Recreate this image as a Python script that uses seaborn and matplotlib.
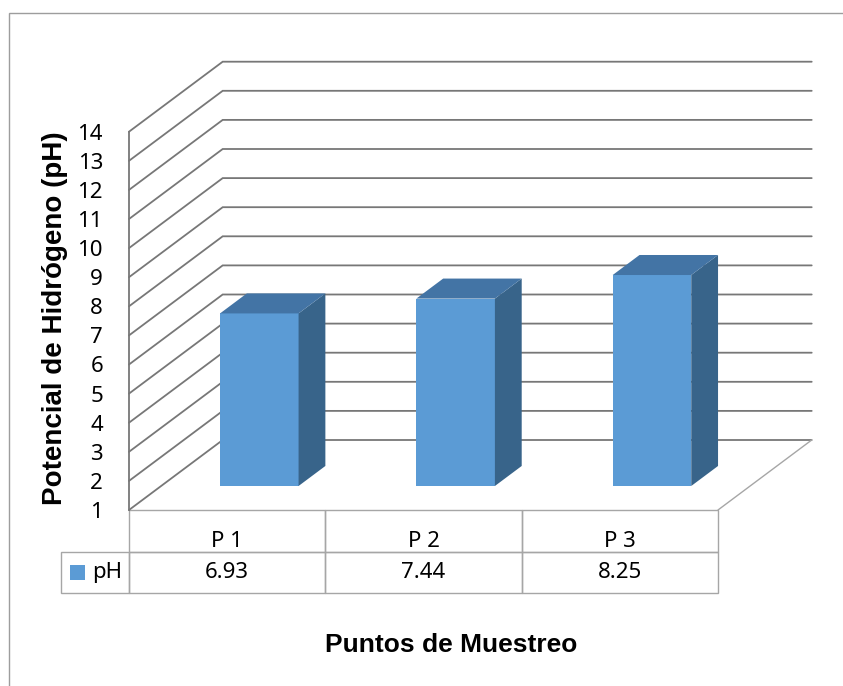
import pandas as pd
import matplotlib.pyplot as plt
from matplotlib.patches import Polygon, Rectangle
import seaborn as sns

# datos
puntos = ['P 1', 'P 2', 'P 3']
ph = [6.93, 7.44, 8.25]
escala_y = list(range(1, 15))
serie = 'pH'

df = pd.DataFrame({'punto': puntos, 'ph': ph})

sns.set_style("white")
plt.rcParams['font.family'] = ['Noto Sans', 'DejaVu Sans']
plt.rcParams['text.color'] = 'black'
plt.rcParams['ytick.color'] = 'black'

W, H = 843, 686
fig = plt.figure(figsize=(W / 100, H / 100), dpi=100)

# area frontal del grafico (px): x 129-718, y 131.7-510
L, R, T, B = 129, 718, 131.7, 510
ax = fig.add_axes([L / W, 1 - B / H, (R - L) / W, (B - T) / H])

# marco exterior
fig.patches.append(Rectangle((8.5 / W, -0.1), 1.2, 1.1 - 13 / H, transform=fig.transFigure,
                             fill=False, edgecolor='#9d9d9d', linewidth=1.0))

sns.barplot(data=df, x='punto', y='ph', color='#5B9BD5', saturation=1, width=0.4,
            linewidth=0, ax=ax)

ax.set_xlim(-0.5, len(puntos) - 0.5)
ax.set_ylim(escala_y[0], escala_y[-1])

# profundidad oblicua (px) pasada a unidades de datos
px_x = (R - L) / len(puntos)
px_y = (B - T) / (escala_y[-1] - escala_y[0])
DX = 93.7 / px_x
DY = 70.0 / px_y
x_lo, x_hi = -0.5, len(puntos) - 0.5

grid_col = '#777777'
for v in escala_y:
    ax.plot([x_lo, x_lo + DX, x_hi + DX], [v, v + DY, v + DY], color=grid_col,
            lw=1.3, clip_on=False, zorder=1, solid_joinstyle='miter')
# borde derecho del piso
ax.plot([x_hi, x_hi + DX], [escala_y[0], escala_y[0] + DY], color='#a6a6a6',
        lw=1.0, clip_on=False, zorder=1)

# barras 3D
d0, bd = 0.343, 0.286
base = escala_y[0]
for p, v in zip(ax.patches, ph):
    w = p.get_width()
    x0 = p.get_x() + d0 * DX
    p.set_x(x0)
    p.set_y(base + d0 * DY)
    p.set_height(v - base)
    p.set_clip_on(False)
    p.set_zorder(3)
    lado = [(x0 + w, base + d0 * DY), (x0 + w, v + d0 * DY),
            (x0 + w + bd * DX, v + (d0 + bd) * DY), (x0 + w + bd * DX, base + (d0 + bd) * DY)]
    tapa = [(x0, v + d0 * DY), (x0 + w, v + d0 * DY),
            (x0 + w + bd * DX, v + (d0 + bd) * DY), (x0 + bd * DX, v + (d0 + bd) * DY)]
    ax.add_patch(Polygon(lado, closed=True, facecolor='#38648A', edgecolor='none',
                         clip_on=False, zorder=3))
    ax.add_patch(Polygon(tapa, closed=True, facecolor='#4374A5', edgecolor='none',
                         clip_on=False, zorder=3))

# ejes
for s in ['top', 'right', 'bottom']:
    ax.spines[s].set_visible(False)
ax.spines['left'].set_color(grid_col)
ax.spines['left'].set_linewidth(1.3)
ax.set_xticks([])
ax.set_yticks(escala_y)
ax.tick_params(axis='y', length=0, pad=18.7, labelsize=16, labelcolor='black')
ax.set_facecolor('none')

ax.set_ylabel('Potencial de Hidrógeno (pH)', family='Liberation Sans', fontweight='bold',
              fontsize=20, va='center', color='black')
ax.yaxis.set_label_coords((55 - L) / (R - L), (B - 318) / (B - T))
ax.set_xlabel('Puntos de Muestreo', family='Liberation Sans', fontweight='bold',
              fontsize=19, va='center', color='black')
ax.xaxis.set_label_coords((451 - L) / (R - L), (B - 645) / (B - T))

# tabla de datos
leg_w = 68
tabla = ax.table(cellText=[[''] + puntos, [serie] + [f'{v:.2f}' for v in ph]],
                 cellLoc='center', colWidths=[leg_w] + [px_x] * len(puntos),
                 bbox=[-leg_w / (R - L), -83 / (B - T), (R - L + leg_w) / (R - L), 83 / (B - T)])
tabla.auto_set_font_size(False)
tabla.set_fontsize(16)
for (r, c), cell in tabla.get_celld().items():
    cell.set_edgecolor('#a6a6a6')
    cell.set_linewidth(1.0)
    cell.set_facecolor('none')
    cell.get_text().set_color('black')
    if r == 0 and c == 0:
        cell.visible_edges = 'open'
    if r == 0:
        cell.get_text().set_va('top')
    if r == 1 and c == 0:
        cell._loc = 'right'
        cell.get_text().set_ha('right')

# clave de la leyenda
ax.add_patch(Rectangle(((70 - L) / (R - L), (B - 580) / (B - T)), 15 / (R - L), 15 / (B - T),
                       transform=ax.transAxes, facecolor='#5B9BD5', edgecolor='none',
                       clip_on=False))

plt.savefig('out.png', dpi=100)
